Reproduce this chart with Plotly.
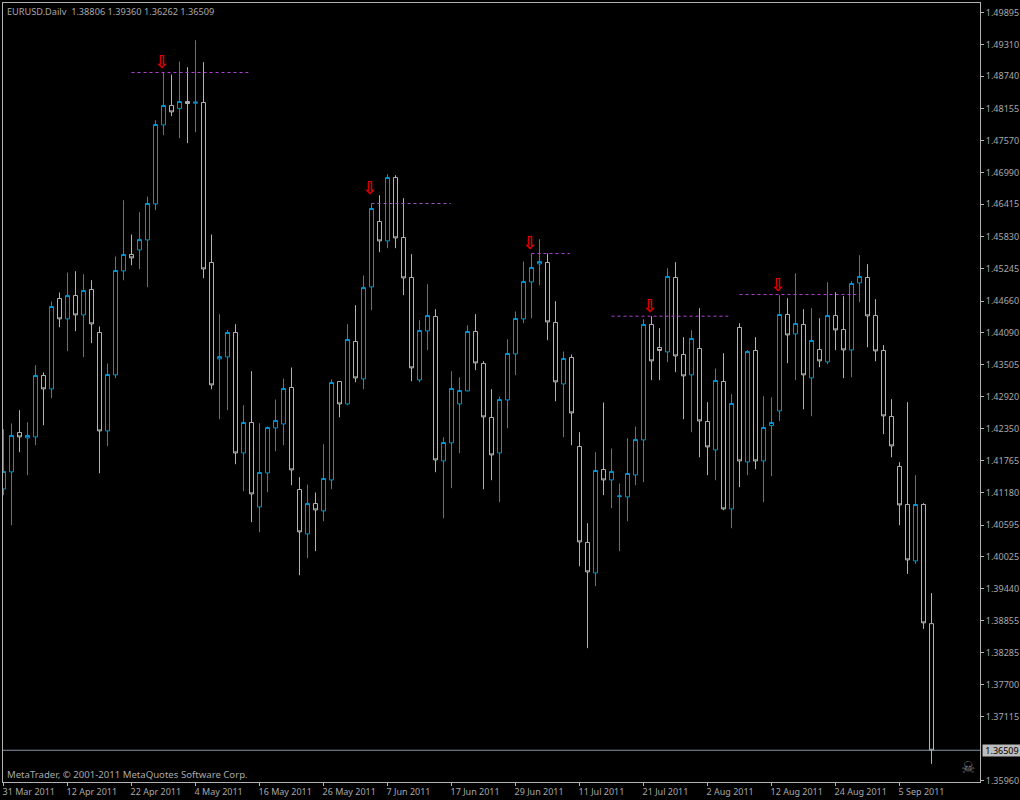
import plotly.graph_objects as go

highs = [1.42334,1.42438,1.42679,1.42461,1.43496,1.43363,1.44651,1.44815,1.45178,1.45201,1.45147,1.45038,1.44198,1.43526,1.45468,1.46490,1.45867,1.46272,1.46557,1.47941,
1.48807,1.48770,1.49006,1.48903,1.49393,1.48994,1.45867,1.44421,1.44131,1.44240,1.42770,1.43387,1.42443,1.42383,1.42873,1.43254,1.43454,1.41463,1.41331,1.41186,
1.42062,1.43236,1.43200,1.44240,1.44584,1.45123,1.46430,1.46580,1.46961,1.46943,1.46526,1.45510,1.44312,1.44965,1.44512,1.42189,1.43387,1.43278,1.44221,1.44421,
1.43568,1.43060,1.42928,1.43967,1.44470,1.45377,1.45522,1.45782,1.45522,1.44657,1.43744,1.43690,1.42280,1.40629,1.41917,1.42819,1.41984,1.41349,1.42171,1.42383,
1.44330,1.44385,1.44167,1.45256,1.45365,1.44004,1.44131,1.44530,1.42824,1.43436,1.43713,1.42970,1.44258,1.43768,1.44004,1.42933,1.42915,1.44766,1.44711,1.45165,
1.44512,1.44530,1.44348,1.45002,1.44820,1.44748,1.45020,1.45492,1.45328,1.44693,1.43859,1.42879,1.41736,1.42824,1.41500,1.40992,1.39360]

body_tops = [1.41567,1.42220,1.42274,1.42220,1.43309,1.43309,1.44561,1.44706,1.44760,1.44760,1.44851,1.44869,1.44089,1.43327,1.45214,1.45504,1.45504,1.45776,1.46430,1.47863,
1.48208,1.48208,1.48280,1.48280,1.48268,1.48262,1.45359,1.43653,1.44089,1.44089,1.42456,1.42456,1.41549,1.42365,1.42492,1.43073,1.43091,1.41240,1.40986,1.40986,
1.41440,1.43182,1.43200,1.43962,1.43926,1.44905,1.46339,1.46103,1.46901,1.46901,1.45813,1.45087,1.44125,1.44397,1.44379,1.42093,1.43073,1.43037,1.44107,1.44107,
1.43526,1.42547,1.42873,1.43708,1.44343,1.45014,1.45268,1.45377,1.45359,1.44270,1.43617,1.43635,1.42020,1.40279,1.41585,1.41603,1.41567,1.41124,1.41531,1.42147,
1.44234,1.44234,1.43817,1.45105,1.45087,1.43690,1.43980,1.43799,1.42474,1.43218,1.43200,1.42801,1.44180,1.43744,1.43762,1.42365,1.42456,1.44416,1.44416,1.44252,
1.44234,1.43944,1.43780,1.44397,1.44397,1.44143,1.44978,1.45105,1.45087,1.44397,1.43762,1.42565,1.41658,1.40968,1.40968,1.40968,1.38806]

body_bottoms = [1.41251,1.41560,1.42195,1.42177,1.42195,1.43066,1.43066,1.44336,1.44336,1.44408,1.44408,1.44245,1.42303,1.42303,1.43320,1.45207,1.45443,1.45588,1.45769,1.46423,
1.47856,1.48092,1.48153,1.48244,1.48250,1.45243,1.43138,1.43610,1.43646,1.41904,1.41904,1.41160,1.40924,1.41541,1.42358,1.42430,1.41596,1.40471,1.40435,1.40870,
1.40852,1.41414,1.42793,1.42793,1.43265,1.43247,1.44916,1.45751,1.45751,1.45806,1.45080,1.43447,1.43229,1.44118,1.41777,1.41759,1.42086,1.42793,1.43029,1.43537,
1.42558,1.41868,1.41904,1.42866,1.43701,1.44336,1.45007,1.45334,1.44281,1.43193,1.43156,1.42630,1.40289,1.39745,1.39727,1.41414,1.41414,1.41113,1.41106,1.41505,
1.42140,1.43574,1.43762,1.43737,1.43664,1.43302,1.43320,1.42485,1.42013,1.41959,1.40888,1.40888,1.41759,1.41741,1.41759,1.41759,1.42401,1.42666,1.44045,1.44064,
1.43320,1.43265,1.43574,1.43556,1.44136,1.43773,1.43773,1.44989,1.44390,1.43755,1.42576,1.42031,1.40961,1.39963,1.39945,1.38820,1.36509]

lows = [1.41137,1.40592,1.41917,1.41500,1.42044,1.42407,1.42897,1.44185,1.43750,1.44113,1.43641,1.43895,1.41536,1.42026,1.43260,1.45038,1.45310,1.45238,1.44911,1.46308,
1.47669,1.48014,1.47615,1.47524,1.47723,1.45074,1.43060,1.42516,1.42679,1.41699,1.41209,1.40647,1.40465,1.41191,1.41935,1.42044,1.41318,1.39685,1.39994,1.40121,
1.40665,1.41246,1.42552,1.42770,1.43187,1.43060,1.44494,1.45546,1.45619,1.45619,1.44766,1.43205,1.43187,1.43768,1.41554,1.40719,1.41264,1.41899,1.43024,1.43405,
1.41246,1.41409,1.41010,1.42352,1.43314,1.44258,1.44348,1.44947,1.43949,1.42842,1.42189,1.42044,1.39848,1.38361,1.39486,1.41137,1.40901,1.40121,1.40665,1.41318,
1.41373,1.43224,1.43224,1.43550,1.43369,1.42516,1.42280,1.41826,1.41500,1.41409,1.40865,1.40538,1.41282,1.41500,1.41609,1.41010,1.41482,1.42480,1.43532,1.43224,
1.42697,1.42570,1.43459,1.43514,1.43768,1.43260,1.43278,1.44639,1.43822,1.43568,1.42244,1.41826,1.40592,1.39709,1.39890,1.38711,1.36262]

rising = [1,1,0,1,1,0,1,0,1,0,1,0,0,1,1,1,0,1,1,1,
1,0,1,0,1,0,0,1,1,0,1,0,1,1,1,1,0,0,1,0,
1,1,0,1,0,1,1,0,1,0,0,0,1,1,0,1,1,1,1,0,
0,0,1,1,1,1,1,1,0,0,1,0,0,0,1,0,1,1,1,1,
1,0,0,1,0,0,1,0,0,1,0,1,0,1,0,1,1,1,0,1,
0,1,0,1,0,0,1,1,0,0,0,0,0,0,1,0,0]

opens = [b if r else t for t, b, r in zip(body_tops, body_bottoms, rising)]
closes = [t if r else b for t, b, r in zip(body_tops, body_bottoms, rising)]
bars = list(range(len(highs)))

date_labels = ["31 Mar 2011","12 Apr 2011","22 Apr 2011","4 May 2011","16 May 2011","26 May 2011","7 Jun 2011","17 Jun 2011",
               "29 Jun 2011","11 Jul 2011","21 Jul 2011","2 Aug 2011","12 Aug 2011","24 Aug 2011","5 Sep 2011"]
date_bars = [0,8,16,24,32,40,48,56,64,72,80,88,96,104,112]
price_ticks = [1.49895,1.49310,1.48740,1.48155,1.47570,1.46990,1.46415,1.45830,1.45245,1.44660,1.44090,1.43505,
               1.42920,1.42350,1.41765,1.41180,1.40595,1.40025,1.39440,1.38855,1.38285,1.37700,1.37115,1.35960]

level_prices = [1.48807,1.46430,1.45522,1.44385,1.44778]
level_starts = [16,46,66,76,92]
level_ends = [30.6,55.9,70.8,90.6,106.6]
level_colors = ["#b040d8","#9a58b8","#b040d8","#b040d8","#b040d8"]
arrow_bars = [19.81,45.81,65.81,80.81,96.81]
arrow_prices = [1.48972,1.46675,1.45695,1.44534,1.44933]

BLUE = "#0a90cc"
GRAY = "#b2b2b2"
FONT = "Noto Sans"
TEXT = "#a8a8a8"

fig = go.Figure()
for p, s, e, c in zip(level_prices, level_starts, level_ends, level_colors):
    fig.add_trace(go.Scatter(x=[s, e], y=[p, p], mode="lines", showlegend=False, hoverinfo="skip",
                             line=dict(color=c, width=1, dash="3px,3px")))
fig.add_trace(go.Candlestick(
    x=bars, open=opens, high=highs, low=lows, close=closes, whiskerwidth=0, showlegend=False,
    increasing=dict(line=dict(color=BLUE, width=1), fillcolor="#000000"),
    decreasing=dict(line=dict(color=GRAY, width=1), fillcolor="#000000"),
))
fig.add_trace(go.Scatter(x=arrow_bars, y=arrow_prices, mode="text", text=["\u21e9"] * len(arrow_bars),
                         textposition="middle center", showlegend=False, hoverinfo="skip",
                         textfont=dict(family="DejaVu Sans", size=18, color="#e00000", weight="bold")))

last_close = closes[-1]
fig.add_shape(type="line", xref="paper", x0=0, x1=1, yref="y", y0=last_close, y1=last_close,
              line=dict(color="#8492a8", width=1))

title = "EURUSD.Dailv  {:.5f} {:.5f} {:.5f} {:.5f}".format(opens[-1], highs[-1], lows[-1], closes[-1])
fig.add_annotation(text=title, xref="paper", yref="paper", x=0.003, y=0.9945, xanchor="left", yanchor="top",
                   yshift=3, showarrow=False, borderpad=0, font=dict(family=FONT, size=9.2, color=TEXT))
fig.add_annotation(text="MetaTrader, \u00a9 2001-2011 MetaQuotes Software Corp.", xref="paper", yref="paper",
                   x=0.003, y=0.0, xanchor="left", yanchor="bottom", showarrow=False, borderpad=0, yshift=0,
                   font=dict(family=FONT, size=9.6, color=TEXT))
fig.add_annotation(text="\u2620", xref="paper", yref="paper", x=0.988, y=0.019, xanchor="center", yanchor="middle",
                   showarrow=False, borderpad=0, font=dict(family="DejaVu Sans", size=16, color="#787878"))
fig.add_annotation(text="{:.5f}".format(last_close), xref="paper", yref="y", x=1, y=last_close, xanchor="left",
                   yanchor="middle", xshift=2, showarrow=False, borderpad=0, width=38, height=11, align="center",
                   bgcolor="#bcbcbc", font=dict(family=FONT, size=9, color="#000000"))

fig.update_layout(
    width=1020, height=800, paper_bgcolor="#000000", plot_bgcolor="#000000", showlegend=False,
    margin=dict(l=3, r=40, t=3, b=18, pad=0), boxgap=0.5, boxgroupgap=0, hovermode=False,
    xaxis=dict(range=[-0.0625, 122.0625], tickmode="array", tickvals=date_bars, ticktext=date_labels,
               rangeslider=dict(visible=False), showgrid=False, zeroline=False, showline=True, mirror=True,
               linecolor=GRAY, linewidth=1, ticks="outside", ticklen=3, tickcolor=GRAY, tickwidth=1,
               ticklabelposition="outside right", ticklabelshift=-2, ticklabelstandoff=1, tickangle=0, automargin=False,
               tickfont=dict(family=FONT, size=9, color=TEXT)),
    yaxis=dict(range=[1.35933, 1.50068], side="right", tickmode="array", tickvals=price_ticks,
               ticktext=["{:.5f}".format(v) for v in price_ticks], showgrid=False, zeroline=False,
               showline=True, mirror=True, linecolor=GRAY, linewidth=1, ticks="outside", ticklen=3,
               tickcolor=GRAY, tickwidth=1, automargin=False,
               tickfont=dict(family=FONT, size=9, color=TEXT)),
)

fig.write_html("out.html", config={"displayModeBar": False}, post_script="document.body.style.margin='0';")
